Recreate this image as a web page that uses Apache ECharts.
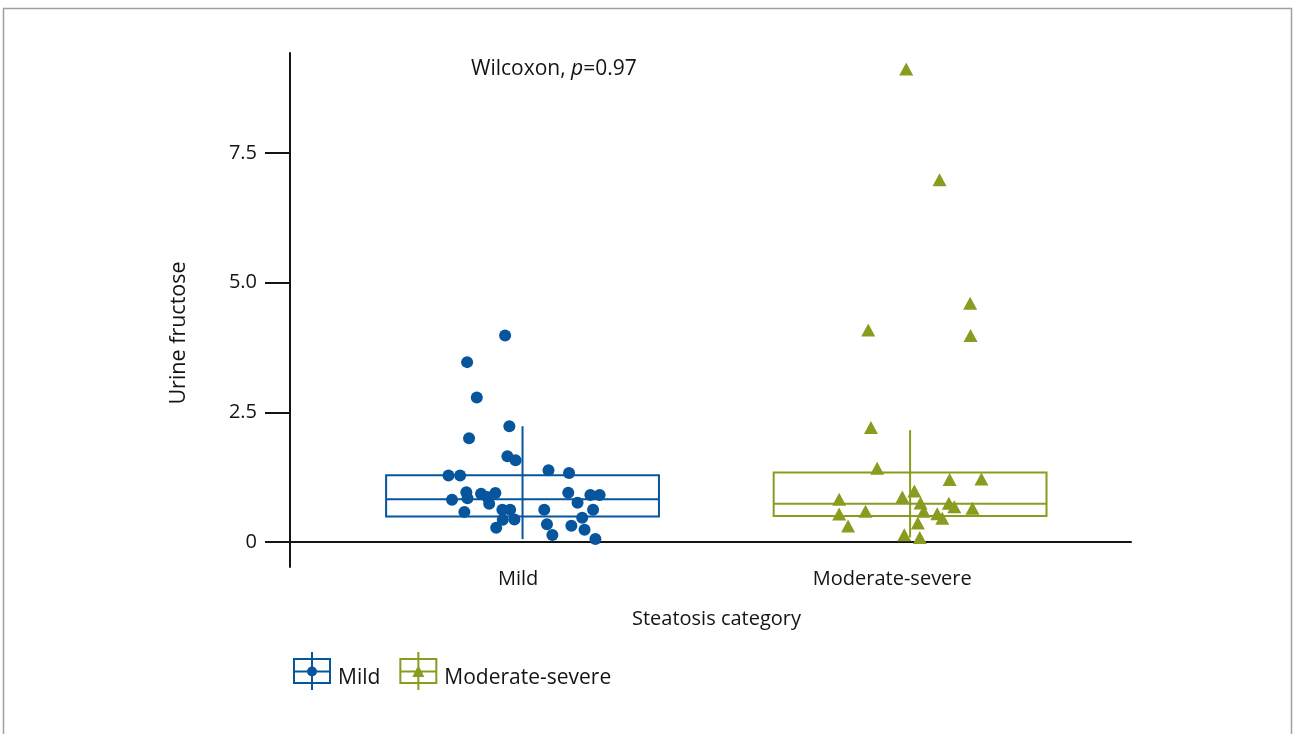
<!DOCTYPE html>
<html>
<head>
<meta charset="utf-8">
<script src="https://cdn.jsdelivr.net/npm/echarts@6/dist/echarts.min.js"></script>
<style>
  html, body { margin: 0; padding: 0; background: #ffffff; }
  #chart { width: 1293px; height: 734px; }
</style>
</head>
<body>
<div id="chart"></div>
<script>
// ---------------- data ----------------
const CATEGORIES = ['Mild', 'Moderate-severe'];

// Mild group: jittered x positions and urine fructose values
const MILD_X = [0.955, 0.857, 0.882, 0.966, 0.862, 0.961, 0.982, 0.809, 0.839, 1.067,
                1.120, 0.855, 0.818, 0.858, 0.893, 0.914, 0.930, 0.909, 0.850, 0.948,
                0.968, 0.949, 0.979, 0.932, 1.056, 1.118, 1.142, 1.175, 1.199, 1.182,
                1.154, 1.063, 1.126, 1.160, 1.077, 1.188];
const MILD_Y = [3.985, 3.470, 2.788, 2.234, 2.002, 1.655, 1.578, 1.282, 1.282, 1.384,
                1.332, 0.960, 0.818, 0.844, 0.934, 0.741, 0.946, 0.869, 0.579, 0.625,
                0.625, 0.432, 0.438, 0.278, 0.625, 0.953, 0.761, 0.908, 0.908, 0.625,
                0.471, 0.342, 0.317, 0.239, 0.135, 0.058];

// Moderate-severe group
const MOD_X = [1.990, 2.076, 2.155, 1.892, 2.156, 1.899, 1.915, 2.102, 2.184, 1.817,
               1.980, 2.011, 2.027, 1.817, 1.885, 2.035, 2.100, 2.114, 2.161, 2.070,
               2.083, 1.840, 2.020, 1.985, 2.025];
const MOD_Y = [9.121, 6.984, 4.603, 4.088, 3.985, 2.209, 1.423, 1.205, 1.217, 0.824,
               0.869, 0.985, 0.753, 0.541, 0.593, 0.593, 0.747, 0.683, 0.651, 0.548,
               0.458, 0.309, 0.367, 0.143, 0.091];

// Box summaries: [x, lower whisker, Q1, median, Q3, upper whisker]
const MILD_BOX = [1, 0.058, 0.496, 0.824, 1.288, 2.234];
const MOD_BOX  = [2, 0.091, 0.502, 0.741, 1.340, 2.157];

const Y_TICKS = [0, 2.5, 5, 7.5];
const Y_TICK_LABELS = ['0', '2.5', '5.0', '7.5'];
const X_TICKS = [1, 2];

// ---------------- styles ----------------
const BLUE = '#07559d';
const GREEN = '#8a9b1f';
const INK = '#141414';
const FONT = '"Open Sans", "Noto Sans", sans-serif';
const BOX_WIDTH = 0.704;

function zip(xs, ys) { return xs.map((x, i) => [x, ys[i]]); }

const MILD_ICON = 'path://M0 6 H38 V32 H0 Z M2 8 V30 H36 V8 Z M2 18.5 H36 V20.5 H2 Z M18 0 H20 V38 H18 Z M14 19.5 A5 5 0 1 1 24 19.5 A5 5 0 1 1 14 19.5 Z';
const MOD_ICON = 'path://M0 6 H38 V32 H0 Z M2 8 V30 H36 V8 Z M2 18.5 H36 V20.5 H2 Z M18 0 H20 V38 H18 Z M13 25 L19 13 L25 25 Z';

function boxRenderer(color) {
  return function (params, api) {
    const x = api.value(0);
    const lo = api.value(1), q1 = api.value(2), med = api.value(3), q3 = api.value(4), hi = api.value(5);
    const halfW = api.size([BOX_WIDTH, 0])[0] / 2;
    const pLo = api.coord([x, lo]);
    const pHi = api.coord([x, hi]);
    const pQ1 = api.coord([x, q1]);
    const pQ3 = api.coord([x, q3]);
    const pMed = api.coord([x, med]);
    return {
      type: 'group',
      children: [
        { type: 'line', shape: { x1: pLo[0], y1: pLo[1], x2: pHi[0], y2: pHi[1] },
          style: { stroke: color, lineWidth: 2 } },
        { type: 'rect', shape: { x: pQ3[0] - halfW, y: pQ3[1], width: 2 * halfW, height: pQ1[1] - pQ3[1] },
          style: { fill: 'none', stroke: color, lineWidth: 2 } },
        { type: 'line', shape: { x1: pMed[0] - halfW, y1: pMed[1], x2: pMed[0] + halfW, y2: pMed[1] },
          style: { stroke: color, lineWidth: 2 } }
      ]
    };
  };
}

const chart = echarts.init(document.getElementById('chart'), null, { renderer: 'canvas' });

chart.setOption({
  animation: false,
  backgroundColor: '#ffffff',
  textStyle: { fontFamily: FONT, color: INK },
  title: {
    left: 466,
    top: 54,
    text: '{n|Wilcoxon, }{i|p}{n|=0.97}',
    textStyle: {
      fontWeight: 'normal',
      rich: {
        n: { fontFamily: FONT, fontSize: 21, fontWeight: 'normal', color: INK },
        i: { fontFamily: FONT, fontSize: 21, fontWeight: 'normal', fontStyle: 'italic', color: INK }
      }
    }
  },
  legend: {
    left: 288,
    top: 647,
    itemWidth: 38,
    itemHeight: 38,
    itemGap: 19,
    formatter: '{t|{name}}',
    textStyle: {
      fontFamily: FONT, fontSize: 21, color: INK,
      rich: { t: { fontFamily: FONT, fontSize: 21, color: INK, padding: [14, 0, 0, 2] } }
    },
    data: [
      { name: 'Mild', icon: MILD_ICON },
      { name: 'Moderate-severe', icon: MOD_ICON }
    ]
  },
  graphic: [
    {
      type: 'rect',
      silent: true,
      shape: { x: 3.5, y: 8.5, width: 1288, height: 800 },
      style: { fill: 'none', stroke: '#a0a0a0', lineWidth: 1.5 }
    }
  ],
  grid: { left: 290, right: 162, top: 53, bottom: 167 },
  xAxis: [
    {
      type: 'value',
      min: 0.4,
      max: 2.57,
      axisLine: { show: true, onZero: true, lineStyle: { color: INK, width: 2 } },
      axisTick: { show: false },
      axisLabel: { show: false },
      splitLine: { show: false }
    },
    {
      type: 'value',
      position: 'bottom',
      min: 0.3904,
      max: 2.638,
      axisLine: { show: false, onZero: false },
      axisTick: { show: false },
      splitLine: { show: false },
      axisLabel: {
        customValues: X_TICKS,
        margin: 2,
        fontFamily: FONT,
        fontSize: 20,
        color: INK,
        formatter: function (v) { return CATEGORIES[Math.round(v) - 1]; }
      },
      name: 'Steatosis category',
      nameLocation: 'middle',
      nameGap: 42,
      nameTextStyle: { fontFamily: FONT, fontSize: 20, color: INK, padding: [0, 0, 0, 12] }
    }
  ],
  yAxis: {
    type: 'value',
    min: -0.48,
    max: 9.43,
    axisLine: { show: true, lineStyle: { color: INK, width: 2 } },
    axisTick: { show: true, length: 25, customValues: Y_TICKS, lineStyle: { color: INK, width: 2 } },
    axisLabel: {
      customValues: Y_TICKS,
      margin: 33,
      fontFamily: FONT,
      fontSize: 20,
      color: INK,
      formatter: function (v) {
        const i = Y_TICKS.findIndex(t => Math.abs(t - v) < 1e-9);
        return i >= 0 ? Y_TICK_LABELS[i] : '';
      }
    },
    splitLine: { show: false },
    name: 'Urine fructose',
    nameLocation: 'middle',
    nameRotate: 90,
    nameGap: 100,
    nameTextStyle: { fontFamily: FONT, fontSize: 21.5, color: INK, padding: [0, 46, 0, 0] }
  },
  series: [
    {
      name: 'Mild box',
      type: 'custom',
      xAxisIndex: 0,
      yAxisIndex: 0,
      renderItem: boxRenderer(BLUE),
      encode: { x: 0, y: [1, 2, 3, 4, 5] },
      data: [MILD_BOX],
      z: 1,
      silent: true
    },
    {
      name: 'Moderate-severe box',
      type: 'custom',
      xAxisIndex: 0,
      yAxisIndex: 0,
      renderItem: boxRenderer(GREEN),
      encode: { x: 0, y: [1, 2, 3, 4, 5] },
      data: [MOD_BOX],
      z: 1,
      silent: true
    },
    {
      name: 'Mild',
      type: 'scatter',
      xAxisIndex: 0,
      yAxisIndex: 0,
      symbol: 'circle',
      symbolSize: 12,
      itemStyle: { color: BLUE, opacity: 1 },
      data: zip(MILD_X, MILD_Y),
      z: 3
    },
    {
      name: 'Moderate-severe',
      type: 'scatter',
      xAxisIndex: 0,
      yAxisIndex: 0,
      symbol: 'triangle',
      symbolSize: [14, 13],
      itemStyle: { color: GREEN, opacity: 1 },
      data: zip(MOD_X, MOD_Y),
      z: 3
    }
  ]
});
</script>
</body>
</html>
